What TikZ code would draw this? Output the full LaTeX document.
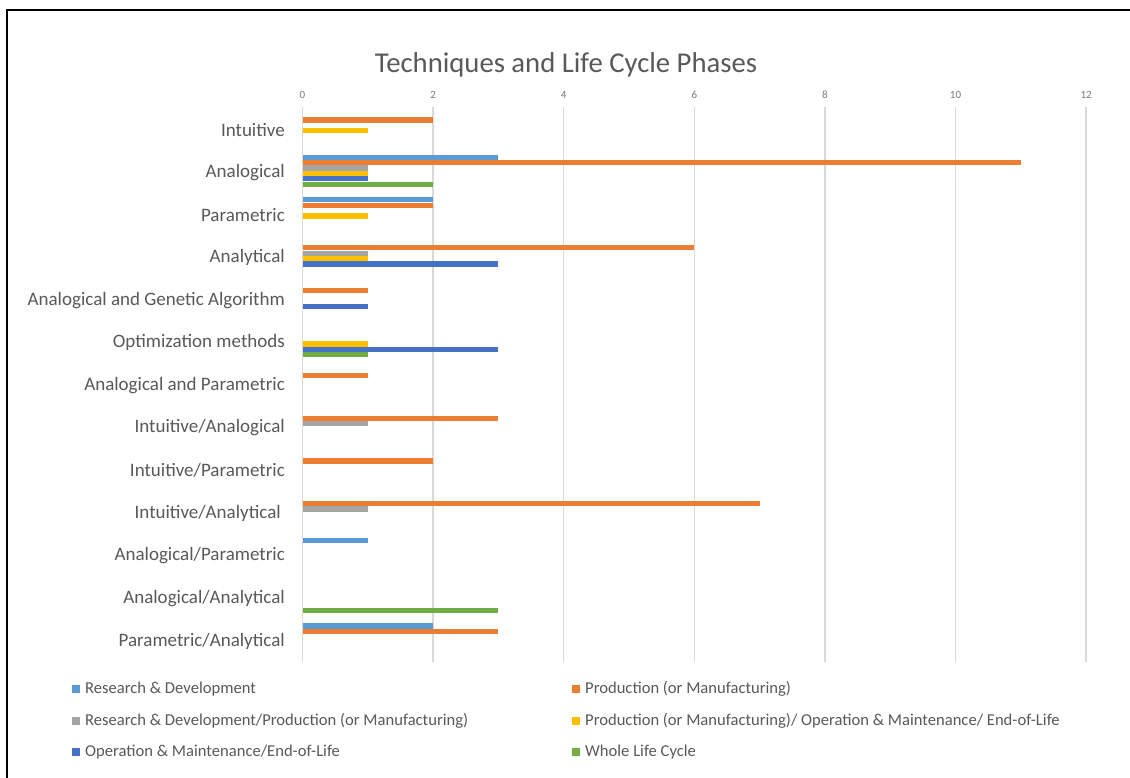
\documentclass[tikz,border=0pt]{standalone}
\usepackage{fontspec}
\setmainfont{Carlito}
\definecolor{cRD}{HTML}{5B9BD5}
\definecolor{cPR}{HTML}{ED7D31}
\definecolor{cGY}{HTML}{A5A5A5}
\definecolor{cYE}{HTML}{FFC000}
\definecolor{cBL}{HTML}{4472C4}
\definecolor{cGR}{HTML}{70AD47}
\definecolor{txt}{HTML}{595959}
\definecolor{grid}{HTML}{D9D9D9}
\begin{document}
\begin{tikzpicture}[x=1pt,y=-1pt,
  catlab/.style={anchor=east,font=\fontsize{19}{21}\selectfont,text=txt,inner sep=0pt},
  ticklab/.style={anchor=center,font=\fontsize{11}{12}\selectfont,text=txt!80,inner sep=0pt},
  leglab/.style={anchor=west,font=\fontsize{16.6}{18}\selectfont,text=txt,inner sep=0pt},
  gridline/.style={draw=grid,line width=1.4pt},
  frameline/.style={draw=black,line width=2pt}]
\useasboundingbox (0,0) rectangle (1130,778);
\fill[white] (0,0) rectangle (1130,778);
% frame (cut at right and bottom)
\draw[frameline] (7,790) -- (7,10) -- (1140,10);
% title
\node[anchor=base,font=\fontsize{28.7}{32}\selectfont,text=txt,inner sep=0pt] (title) at (566,73) {Techniques and Life Cycle Phases};
% gridlines and tick labels
\foreach \v in {0,2,...,12}{
  \pgfmathsetmacro{\gx}{302.5+65.3*\v}
  \draw[gridline] (\gx,107) -- (\gx,662);
  \node[ticklab] (tick\v) at (\gx,95) {\v};
}
% bars: category/series/value
\foreach \c/\s/\v/\col in {
  0/1/2/cPR, 0/3/1/cYE,
  1/0/3/cRD, 1/1/11/cPR, 1/2/1/cGY, 1/3/1/cYE, 1/4/1/cBL, 1/5/2/cGR,
  2/0/2/cRD, 2/1/2/cPR, 2/3/1/cYE,
  3/1/6/cPR, 3/2/1/cGY, 3/3/1/cYE, 3/4/3/cBL,
  4/1/1/cPR, 4/4/1/cBL,
  5/3/1/cYE, 5/4/3/cBL, 5/5/1/cGR,
  6/1/1/cPR,
  7/1/3/cPR, 7/2/1/cGY,
  8/1/2/cPR,
  9/1/7/cPR, 9/2/1/cGY,
  10/0/1/cRD,
  11/5/3/cGR,
  12/0/2/cRD, 12/1/3/cPR}{
  \pgfmathsetmacro{\yt}{107+42.6*(\c+0.5)-16.2+5.4*\s}
  \pgfmathsetmacro{\xe}{302.5+65.3*\v}
  \fill[\col] (302.5,\yt) rectangle (\xe,\yt+5.2);
}
% category labels
\foreach \i/\name/\xx in {
  0/Intuitive/285,
  1/Analogical/285,
  2/Parametric/285,
  3/Analytical/285,
  4/Analogical and Genetic Algorithm/285,
  5/Optimization methods/285,
  6/Analogical and Parametric/285,
  7/Intuitive\slash Analogical/285,
  8/Intuitive\slash Parametric/285,
  9/Intuitive\slash Analytical/281,
  10/Analogical\slash Parametric/285,
  11/Analogical\slash Analytical/285,
  12/Parametric\slash Analytical/285}{
  \pgfmathsetmacro{\yc}{108.5+42.6*(\i+0.5)}
  \node[catlab] (cat\i) at (\xx,\yc) {\name};
}
% legend
\foreach \k/\lx/\ly/\col/\lab in {
  1/71.5/689/cRD/Research \& Development,
  2/571.5/689/cPR/Production (or Manufacturing),
  3/71.5/720.5/cGY/Research \& Development\slash Production (or Manufacturing),
  4/571.5/720.5/cYE/Production (or Manufacturing)\slash\ Operation \& Maintenance\slash\ End-of-Life,
  5/71.5/752/cBL/Operation \& Maintenance\slash End-of-Life,
  6/571.5/752/cGR/Whole Life Cycle}{
  \fill[\col] (\lx,\ly-4) rectangle (\lx+8,\ly+4);
  \node[leglab] (leg\k) at (\lx+13.5,\ly) {\lab};
}
\end{tikzpicture}
\end{document}
